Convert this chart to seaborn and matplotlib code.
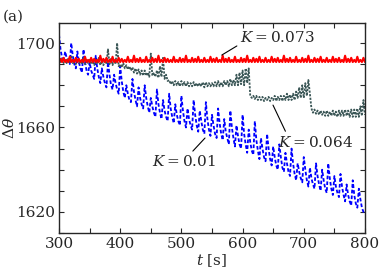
import matplotlib
matplotlib.use("agg")
import matplotlib.pyplot as plt
import pandas as pd
import seaborn as sns
from matplotlib.ticker import FixedLocator, MultipleLocator

# time axis, one sample every 2.5 s
t = [300 + 2.5 * i for i in range(201)]

# K = 0.073, stays flat with small spikes
red = [1691, 1692.5, 1691, 1693, 1691, 1692, 1691, 1693.5, 1691, 1692, 1691, 1693,
       1691, 1692.5, 1691, 1692, 1691, 1693.5, 1691, 1692, 1691, 1693, 1691, 1692.5,
       1691, 1692, 1691, 1694, 1691, 1692.5, 1691, 1693, 1691, 1692, 1691, 1693.5,
       1691, 1692, 1691, 1693, 1691, 1692.5, 1691, 1692, 1691, 1693.5, 1691, 1692,
       1691, 1694, 1691, 1692.5, 1691, 1693, 1691, 1692, 1691, 1693.5, 1691, 1692,
       1691, 1693, 1691, 1692.5, 1691, 1694, 1691, 1692, 1691, 1693, 1691, 1692.5,
       1691, 1692, 1691, 1693.5, 1691, 1692, 1691, 1693, 1691, 1692.5, 1691, 1694,
       1691, 1692, 1691, 1693, 1691, 1692.5, 1691, 1693.5, 1691, 1692, 1691, 1693,
       1691, 1692, 1691, 1693.5, 1691, 1692.5, 1691, 1693, 1691, 1692, 1691, 1694,
       1691, 1692.5, 1691, 1693, 1691, 1692, 1691, 1693.5, 1691, 1692, 1691, 1693,
       1691, 1692.5, 1691, 1694, 1691, 1692, 1691, 1693, 1691, 1692.5, 1691, 1693.5,
       1691, 1692, 1691, 1693, 1691, 1692, 1691, 1693.5, 1691, 1692.5, 1691, 1693,
       1691, 1692, 1691, 1694, 1691, 1692.5, 1691, 1693, 1691, 1692, 1691, 1693.5,
       1691, 1692, 1691, 1693, 1691, 1692.5, 1691, 1694, 1691, 1692, 1691, 1693,
       1691, 1692.5, 1691, 1693.5, 1691, 1692, 1691, 1693, 1691, 1692, 1691, 1693.5,
       1691, 1692.5, 1691, 1693, 1691, 1692, 1691, 1694, 1691, 1692.5, 1691, 1693,
       1691, 1692, 1691, 1693.5, 1691, 1692, 1691, 1693, 1691]

# K = 0.064, slow decay with steps and bursts
gray = [1693, 1691, 1692.5, 1690.5, 1692, 1690.5, 1693, 1691,
        1694, 1690.5, 1692, 1690, 1692.5, 1690.5, 1691.5, 1690,
        1693, 1690, 1692, 1690.5, 1692, 1690, 1691.5, 1689.5,
        1692, 1690, 1693, 1689.5, 1691.5, 1689.5, 1692, 1690,
        1697, 1690, 1693, 1689.5, 1692, 1690, 1700, 1689,
        1690, 1688.5, 1690.5, 1688, 1689.5, 1687.5, 1689, 1687,
        1688.5, 1686, 1688, 1685.5, 1687.5, 1685, 1687, 1684.5,
        1687, 1684.5, 1686, 1684, 1695, 1684.5, 1686, 1684,
        1687, 1683.5, 1689, 1684, 1693, 1683, 1685, 1682,
        1682.5, 1680.5, 1682, 1680, 1682, 1680, 1681.5, 1679.5,
        1682, 1680, 1681.5, 1679.5, 1681.5, 1679.5, 1681, 1679.5,
        1681.5, 1679.5, 1681, 1679.5, 1681, 1679.5, 1681.5, 1679,
        1681.5, 1679.5, 1681, 1679.5, 1681, 1679.5, 1681.5, 1679.5,
        1682, 1679.5, 1681.5, 1679.5, 1682, 1680, 1682, 1679.5,
        1683, 1680, 1682.5, 1680, 1685, 1680, 1686, 1680.5,
        1687, 1680, 1688, 1681, 1688, 1675, 1674, 1675,
        1673.5, 1675, 1673, 1674.5, 1673, 1674.5, 1672.5, 1674,
        1673, 1674.5, 1672.5, 1674, 1673, 1675, 1672.5, 1674.5,
        1673, 1675, 1672.5, 1675, 1673, 1676, 1673, 1675.5,
        1673, 1676, 1673, 1677, 1674, 1679, 1674, 1680,
        1674, 1681, 1675, 1682.5, 1676, 1669, 1667, 1668.5,
        1666.5, 1668, 1666, 1668, 1666, 1667.5, 1665.5, 1668,
        1665.5, 1667.5, 1665.5, 1668, 1665.5, 1667.5, 1665, 1668,
        1665.5, 1668, 1665.5, 1668.5, 1665.5, 1668, 1665, 1668.5,
        1665, 1668.5, 1665, 1669, 1665, 1670, 1665.5, 1673,
        1666]

# K = 0.01, sawtooth drift downwards
blue = [1704, 1697, 1693, 1691, 1696, 1693, 1691, 1690,
        1700, 1694, 1690, 1688, 1696, 1691, 1688, 1686,
        1697, 1691, 1687, 1685, 1691, 1687, 1685, 1683,
        1694, 1688, 1684, 1681, 1688, 1684, 1681, 1679,
        1691, 1685, 1680, 1678, 1685, 1681, 1678, 1676,
        1689, 1682, 1677, 1674, 1680, 1676, 1673, 1672,
        1683, 1677, 1673, 1670, 1679, 1674, 1671, 1669,
        1680, 1674, 1670, 1667, 1674, 1670, 1667, 1665,
        1678, 1671, 1667, 1664, 1673, 1668, 1665, 1663,
        1676, 1669, 1665, 1662, 1671, 1666, 1663, 1661,
        1675, 1668, 1663, 1660, 1669, 1664, 1661, 1659,
        1673, 1666, 1661, 1658, 1668, 1663, 1659, 1657,
        1672, 1664, 1659, 1656, 1666, 1661, 1657, 1655,
        1669, 1662, 1657, 1654, 1664, 1658, 1655, 1652,
        1668, 1660, 1655, 1651, 1661, 1656, 1652, 1650,
        1666, 1657, 1652, 1648, 1659, 1653, 1649, 1647,
        1663, 1654, 1649, 1645, 1655, 1650, 1646, 1644,
        1657, 1650, 1645, 1642, 1651, 1646, 1642, 1640,
        1652, 1646, 1641, 1639, 1648, 1643, 1639, 1637,
        1650, 1643, 1638, 1635, 1643, 1639, 1636, 1634,
        1646, 1640, 1635, 1632, 1641, 1636, 1633, 1631,
        1643, 1637, 1633, 1630, 1640, 1635, 1631, 1629,
        1643, 1636, 1631, 1628, 1637, 1632, 1629, 1627,
        1638, 1632, 1628, 1625, 1633, 1628, 1625, 1623,
        1635, 1628, 1624, 1622, 1631, 1626, 1622, 1620,
        1619]

df = pd.DataFrame({"t": t, "red": red, "gray": gray, "blue": blue})

sns.set_style("ticks")
plt.rcParams["font.family"] = ["DejaVu Serif"]
plt.rcParams["mathtext.fontset"] = "dejavuserif"

fig = plt.figure(figsize=(3.79, 2.73), dpi=100)
ax = fig.add_axes([0.1557, 0.1465, 0.8073, 0.7693])

sns.lineplot(data=df, x="t", y="blue", ax=ax, color="#0000ff", lw=1.3,
             linestyle=(0, (2, 1.2)))
sns.lineplot(data=df, x="t", y="gray", ax=ax, color="#3b5757", lw=1.3,
             linestyle=(0, (1.2, 0.8)))
sns.lineplot(data=df, x="t", y="red", ax=ax, color="#ff0000", lw=1.5)

ax.set_xlim(300, 800)
ax.set_ylim(1610, 1709.5)
ax.xaxis.set_major_locator(MultipleLocator(100))
ax.xaxis.set_minor_locator(MultipleLocator(50))
ax.yaxis.set_major_locator(FixedLocator([1620, 1660, 1700]))
ax.yaxis.set_minor_locator(MultipleLocator(10))
ax.tick_params(which="both", direction="in", top=True, right=True,
               length=3.5, width=0.8, labelsize=11, pad=3)
for s in ax.spines.values():
    s.set_linewidth(1.0)

ax.set_xlabel(r"$t$ [s]", fontsize=11, labelpad=1)
ax.set_ylabel(r"$\Delta\theta$", fontsize=11)
ax.yaxis.set_label_coords(-0.138, 0.5)
fig.text(0.008, 0.965, "(a)", fontsize=11, va="top")

arr = dict(arrowstyle="-", color="black", lw=0.8, shrinkA=0, shrinkB=0)
ax.annotate(r"$K = 0.073$", xy=(566, 1694.3), xytext=(596, 1702.4),
            ha="left", va="center", fontsize=11,
            arrowprops=dict(arr, relpos=(0, 0.1)))
ax.annotate(r"$K = 0.064$", xy=(649.7, 1670.6), xytext=(657.8, 1653.1),
            ha="left", va="center", fontsize=11,
            arrowprops=dict(arr, relpos=(0.12, 1)))
ax.annotate(r"$K = 0.01$", xy=(538.6, 1655), xytext=(452, 1643.7),
            ha="left", va="center", fontsize=11,
            arrowprops=dict(arr, relpos=(0.59, 1)))

fig.savefig("out.png", dpi=100)
